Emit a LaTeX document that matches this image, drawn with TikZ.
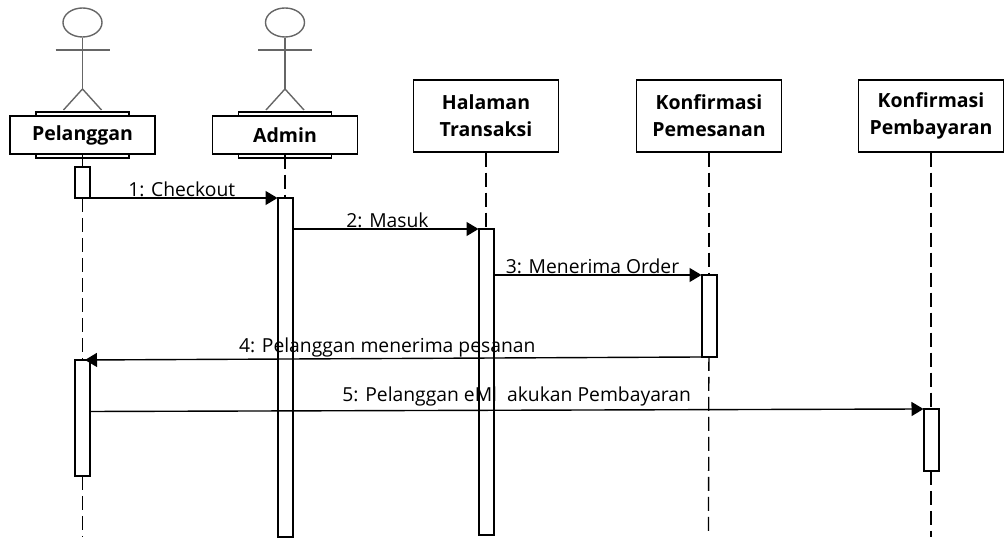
\documentclass[tikz,border=0pt]{standalone}
\usepackage{fontspec}
\setmainfont{Open Sans}
\usetikzlibrary{arrows.meta,shapes.geometric}
\tikzstyle{actorbox} = [rectangle, text width=145pt, minimum height=38pt, inner sep=0pt, text centered, draw=black, fill=white, line width=1.2pt, font=\fontsize{19.5}{27}\selectfont\bfseries]
\tikzstyle{actorback} = [rectangle, minimum width=93pt, minimum height=46pt, inner sep=0pt, draw=black, line width=1.2pt]
\tikzstyle{pagebox} = [rectangle, text width=145pt, minimum height=72pt, inner sep=0pt, text centered, draw=black, fill=white, line width=1.2pt, font=\fontsize{19.5}{27}\selectfont\bfseries]
\tikzstyle{bar} = [rectangle, minimum width=15pt, inner sep=0pt, outer sep=0pt, draw=black, fill=white, line width=2pt]
\tikzstyle{lifeline} = [line width=1.3pt, dash pattern=on 14pt off 6pt]
\tikzstyle{stick} = [line width=1.4pt, draw=black!60]
\tikzstyle{arrow} = [line width=1.4pt,->,>={Triangle[length=12pt,width=14pt]}]
\tikzstyle{msg} = [anchor=south, inner sep=1pt, font=\fontsize{19.3}{24}\selectfont]

\begin{document}
\begin{tikzpicture}[x=1pt,y=1pt,node distance=100pt]
\useasboundingbox (0,0) rectangle (1005,540);
\node (pelangganback) [actorback] at (82.5,405) {};
\node (adminback) [actorback] at (285,405) {};
\node (pelanggan) [actorbox] at (82.5,405) {Pelanggan};
\node (admin) [actorbox] at (285,405) {Admin};
\node (halaman) [pagebox, right of=admin, xshift=101pt, yshift=19pt] {Halaman\\Transaksi};
\node (pemesanan) [pagebox, right of=halaman, xshift=123pt] {Konfirmasi\\Pemesanan};
\node (pembayaran) [pagebox, right of=pemesanan, xshift=122pt] {Konfirmasi\\Pembayaran};

% stick figures
\foreach \who in {pelanggan, admin} {
  \node (\who head) [ellipse, minimum width=39pt, minimum height=29pt, inner sep=0pt, stick, draw, above of=\who, yshift=12.5pt] {};
  \coordinate (\who hip) at ([yshift=46pt]\who.center);
  \draw [stick] (\who head.south) -- (\who hip);
  \draw [stick] ([xshift=-27pt,yshift=85pt]\who.center) -- ([xshift=27pt,yshift=85pt]\who.center);
  \draw [stick] ([xshift=-19pt,yshift=25pt]\who.center) -- (\who hip) -- ([xshift=19pt,yshift=25pt]\who.center);
}

\node (pbar1) [bar, below of=pelanggan, yshift=52.5pt, minimum height=31pt] {};
\node (pbar2) [bar, below of=pelanggan, yshift=-183pt, minimum height=116pt] {};
\node (abar) [bar, below of=admin, yshift=-132.5pt, minimum height=339pt] {};
\node (hbar) [bar, below of=halaman, yshift=-166pt, minimum height=306pt] {};
\node (kbar) [bar, below of=pemesanan, yshift=-100pt, minimum height=82pt] {};
\node (bbar) [bar, below of=pembayaran, yshift=-224pt, minimum height=62pt] {};

\coordinate (pend) at (82.5,3);
\coordinate (kend) at (708.5,8);
\coordinate (bend) at (931,3);

\draw [lifeline] (pelanggan) -- (pbar1);
\draw [lifeline] (pbar1) -- (pbar2);
\draw [lifeline] (pbar2) -- (pend);
\draw [lifeline] (admin) -- (abar);
\draw [lifeline] (halaman) -- (hbar);
\draw [lifeline] (pemesanan) -- (kbar);
\draw [lifeline] (kbar) -- (kend);
\draw [lifeline] (pembayaran) -- (bbar);
\draw [lifeline] (bbar) -- (bend);

\draw [arrow] (pbar1.south east) -- node[msg, xshift=-2pt] {1: Checkout} (abar.north west);
\draw [arrow] ([yshift=-31pt]abar.north east) -- node[msg, xshift=2pt] {2: Masuk} (hbar.north west);
\draw [arrow] ([yshift=-46pt]hbar.north east) -- node[msg, xshift=-5pt] {3: Menerima Order} (kbar.north west);
\draw [arrow] (kbar.south west) -- node[msg, xshift=-6pt] {4: Pelanggan menerima pesanan} ([xshift=-5pt]pbar2.north east);
\draw [arrow] ([yshift=6.5pt]pbar2.east) -- node[msg, xshift=10pt, yshift=2pt] {5: Pelanggan eMl\ \ akukan Pembayaran} (bbar.north west);
\end{tikzpicture}
\end{document}
